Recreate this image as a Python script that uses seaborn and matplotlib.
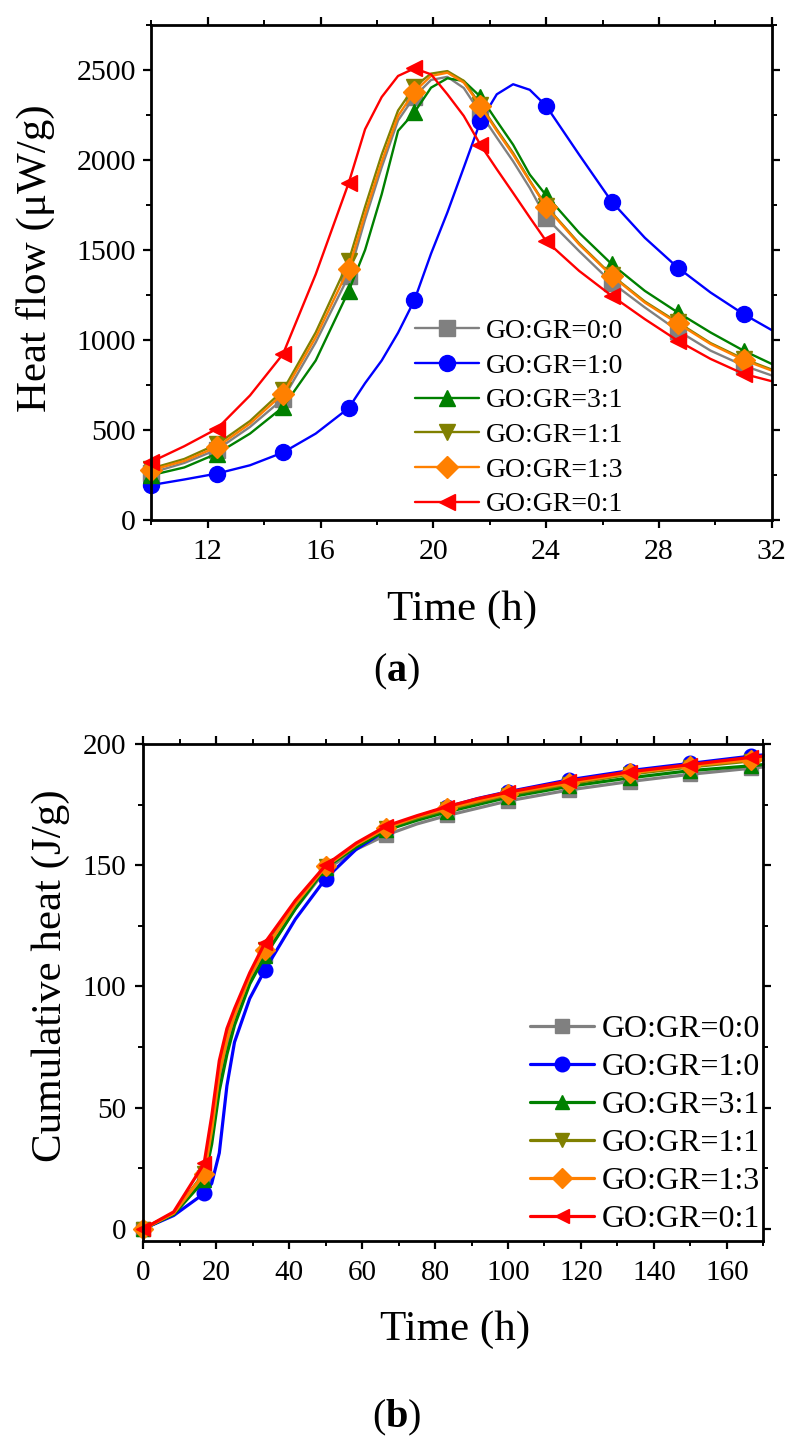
import numpy as np
import pandas as pd
import matplotlib
matplotlib.use("Agg")
import matplotlib.pyplot as plt
import seaborn as sns
from matplotlib.ticker import MultipleLocator

# ---------------- data ----------------
labels = ["GO:GR=0:0", "GO:GR=1:0", "GO:GR=3:1", "GO:GR=1:1", "GO:GR=1:3", "GO:GR=0:1"]
colors = ["#808080", "#0000FF", "#008000", "#808000", "#FF8000", "#FF0000"]
markers = ["s", "o", "^", "v", "D", "<"]

# (a) heat flow, µW/g
time_a = [10, 11.17, 12.33, 13.5, 14.67, 15.83, 17.0, 17.58, 18.17, 18.75, 19.33,
          19.92, 20.5, 21.08, 21.67, 22.25, 22.83, 23.42, 24.0, 25.17, 26.33,
          27.5, 28.67, 29.83, 31.0, 32.0]
marker_times_a = [10, 12.33, 14.67, 17.0, 19.33, 21.67, 24.0, 26.33, 28.67, 31.0]
flow_00 = [262, 317, 391, 517, 673, 987, 1356, 1670, 1960, 2220, 2352,
           2445, 2462, 2400, 2260, 2125, 1993, 1845, 1679, 1494, 1319,
           1181, 1052, 941, 858, 803]
flow_10 = [194, 225, 258, 304, 375, 480, 622, 760, 886, 1040, 1221,
           1480, 1709, 1958, 2214, 2365, 2421, 2390, 2301, 2030, 1768,
           1568, 1402, 1264, 1144, 1055]
flow_31 = [249, 292, 369, 480, 627, 886, 1273, 1500, 1810, 2162, 2265,
           2402, 2454, 2439, 2352, 2217, 2085, 1919, 1804, 1596, 1421,
           1273, 1153, 1042, 941, 867]
flow_11 = [286, 339, 421, 550, 720, 1042, 1439, 1740, 2030, 2275, 2408,
           2480, 2494, 2440, 2306, 2170, 2039, 1886, 1744, 1537, 1360,
           1214, 1098, 983, 895, 836]
flow_13 = [277, 328, 406, 535, 701, 1015, 1397, 1700, 1990, 2245, 2380,
           2467, 2485, 2430, 2301, 2162, 2030, 1882, 1740, 1531, 1356,
           1208, 1092, 978, 889, 830]
flow_01 = [323, 410, 507, 692, 922, 1365, 1873, 2171, 2350, 2467, 2509,
           2476, 2365, 2245, 2085, 1949, 1817, 1681, 1550, 1384, 1245,
           1116, 996, 895, 812, 771]

# (b) cumulative heat, J/g
time_b = [0, 8.33, 16.67, 18.75, 20.83, 22.92, 25, 29.17, 33.33, 41.67, 50,
          58.33, 66.67, 75, 83.33, 91.67, 100, 116.67, 133.33, 150, 166.67, 170]
marker_times_b = [0, 16.67, 33.33, 50, 66.67, 83.33, 100, 116.67, 133.33, 150, 166.67]
cum_00 = [0, 6, 21.5, 38, 60, 75, 85.5, 102, 113, 132, 148,
          156.5, 162.5, 167, 170.5, 173.5, 176.5, 181, 184.5, 187.5, 190, 190.5]
cum_10 = [0, 5.5, 14.6, 18.7, 31.3, 59, 77, 95, 106.8, 127.7, 144.5,
          156.5, 164.5, 170, 174, 177.5, 180.3, 185.2, 189, 192, 195, 195.5]
cum_31 = [0, 6, 20, 35, 57, 72, 84, 101, 112.5, 132, 149,
          157.5, 164.5, 168.5, 172, 175, 178, 182.5, 186, 189, 191, 191.5]
cum_11 = [0, 6.5, 23, 42, 65, 79, 88.5, 104.5, 115.5, 134.5, 149.5,
          158.5, 165.5, 169.5, 173, 176, 179, 183.5, 187.5, 190.5, 193, 193.5]
cum_13 = [0, 6.5, 22.5, 41, 64, 78, 88, 104, 115, 134, 149.5,
          158.5, 165.5, 170, 173.5, 176.5, 179.5, 184, 188, 191, 193.5, 194]
cum_01 = [0, 7, 27, 46.5, 69.4, 82.6, 90.8, 105.6, 118, 135.4, 150,
          159.1, 166.2, 170.4, 174.2, 177.4, 180.1, 184.7, 188.5, 191.5, 194.5, 195]

flows = [flow_00, flow_10, flow_31, flow_11, flow_13, flow_01]
cums = [cum_00, cum_10, cum_31, cum_11, cum_13, cum_01]

df_a = pd.concat([pd.DataFrame({"time": time_a, "value": v, "series": l})
                  for l, v in zip(labels, flows)], ignore_index=True)
df_b = pd.concat([pd.DataFrame({"time": time_b, "value": v, "series": l})
                  for l, v in zip(labels, cums)], ignore_index=True)

# ---------------- style ----------------
sns.set_style("ticks")
serif = ["Liberation Serif", "DejaVu Serif"]
plt.rcParams["font.family"] = serif
plt.rcParams["mathtext.fontset"] = "custom"
plt.rcParams["mathtext.rm"] = "Liberation Serif"
plt.rcParams["mathtext.bf"] = "Liberation Serif:bold"
for k in ["text.color", "axes.labelcolor", "xtick.color", "ytick.color", "axes.edgecolor"]:
    plt.rcParams[k] = "black"

fig = plt.figure(figsize=(7.91, 14.46), dpi=100)
ax_a = fig.add_axes([0.1913, 0.6404, 0.7843, 0.3423])
ax_b = fig.add_axes([0.1812, 0.1418, 0.7838, 0.3437])


def draw(ax, df, tlist, mtimes, lw, ms):
    idx = [i for i, t in enumerate(tlist) if any(abs(t - m) < 1e-6 for m in mtimes)]
    for lab, col, mk in zip(labels, colors, markers):
        sub = df[df["series"] == lab]
        sns.lineplot(data=sub, x="time", y="value", ax=ax, color=col, lw=lw,
                     marker=mk, markevery=idx, markersize=ms,
                     markeredgecolor=col, markerfacecolor=col, markeredgewidth=1,
                     label=lab, clip_on=False, legend=False)


draw(ax_a, df_a, time_a, marker_times_a, 1.7, 11.5)
draw(ax_b, df_b, time_b, marker_times_b, 2.3, 10.5)

for ax in (ax_a, ax_b):
    for s in ax.spines.values():
        s.set_linewidth(2.0)
        s.set_color("black")
        s.set_visible(True)
    ax.tick_params(which="both", direction="out", top=True, right=True,
                   labeltop=False, labelright=False, colors="black")
    ax.tick_params(which="major", length=5.5, width=1.6)
    ax.tick_params(which="minor", length=3.5, width=1.4)
    ax.set_facecolor("white")

ax_a.set_xlim(10, 32)
ax_a.set_ylim(0, 2750)
ax_a.xaxis.set_minor_locator(MultipleLocator(2))
ax_a.yaxis.set_major_locator(MultipleLocator(500))
ax_a.yaxis.set_minor_locator(MultipleLocator(250))
ax_a.set_xticks([12, 16, 20, 24, 28, 32])
ax_a.tick_params(axis="x", which="major", labelsize=21.5, pad=8)
ax_a.tick_params(axis="y", which="major", labelsize=21.5, pad=5.5)

ax_b.set_xlim(0, 170)
ax_b.set_ylim(-5, 200)
ax_b.xaxis.set_major_locator(MultipleLocator(20))
ax_b.xaxis.set_minor_locator(MultipleLocator(10))
ax_b.yaxis.set_major_locator(MultipleLocator(50))
ax_b.yaxis.set_minor_locator(MultipleLocator(25))
ax_b.tick_params(axis="x", which="major", labelsize=21, pad=8)
ax_b.tick_params(axis="y", which="major", labelsize=21, pad=7)

ax_a.set_xlabel("Time (h)", fontsize=31)
ax_a.set_ylabel("Heat flow (μW/g)", fontsize=31)
ax_b.set_xlabel("Time (h)", fontsize=31)
ax_b.set_ylabel("Cumulative heat (J/g)", fontsize=31)
ax_a.xaxis.set_label_coords(0.5016, -0.1414)
ax_a.yaxis.set_label_coords(-0.155, 0.529)
ax_b.xaxis.set_label_coords(0.5027, -0.1408)
ax_b.yaxis.set_label_coords(-0.118, 0.533)

leg_a = ax_a.legend(loc="center left", bbox_to_anchor=(0.425, 0.206), frameon=False,
                    fontsize=20, handlelength=2.3, handletextpad=0.25,
                    labelspacing=0.33, borderpad=0, borderaxespad=0)
leg_b = ax_b.legend(loc="center left", bbox_to_anchor=(0.624, 0.2344), frameon=False,
                    fontsize=23, handlelength=2.0, handletextpad=0.25,
                    labelspacing=0.27, borderpad=0, borderaxespad=0)

fig.text(397 / 791, 1 - 672 / 1446, r"($\mathbf{a}$)", ha="center", va="center", fontsize=29)
fig.text(397 / 791, 1 - 1418 / 1446, r"($\mathbf{b}$)", ha="center", va="center", fontsize=29)

fig.savefig("out.png", dpi=100, facecolor="white")
